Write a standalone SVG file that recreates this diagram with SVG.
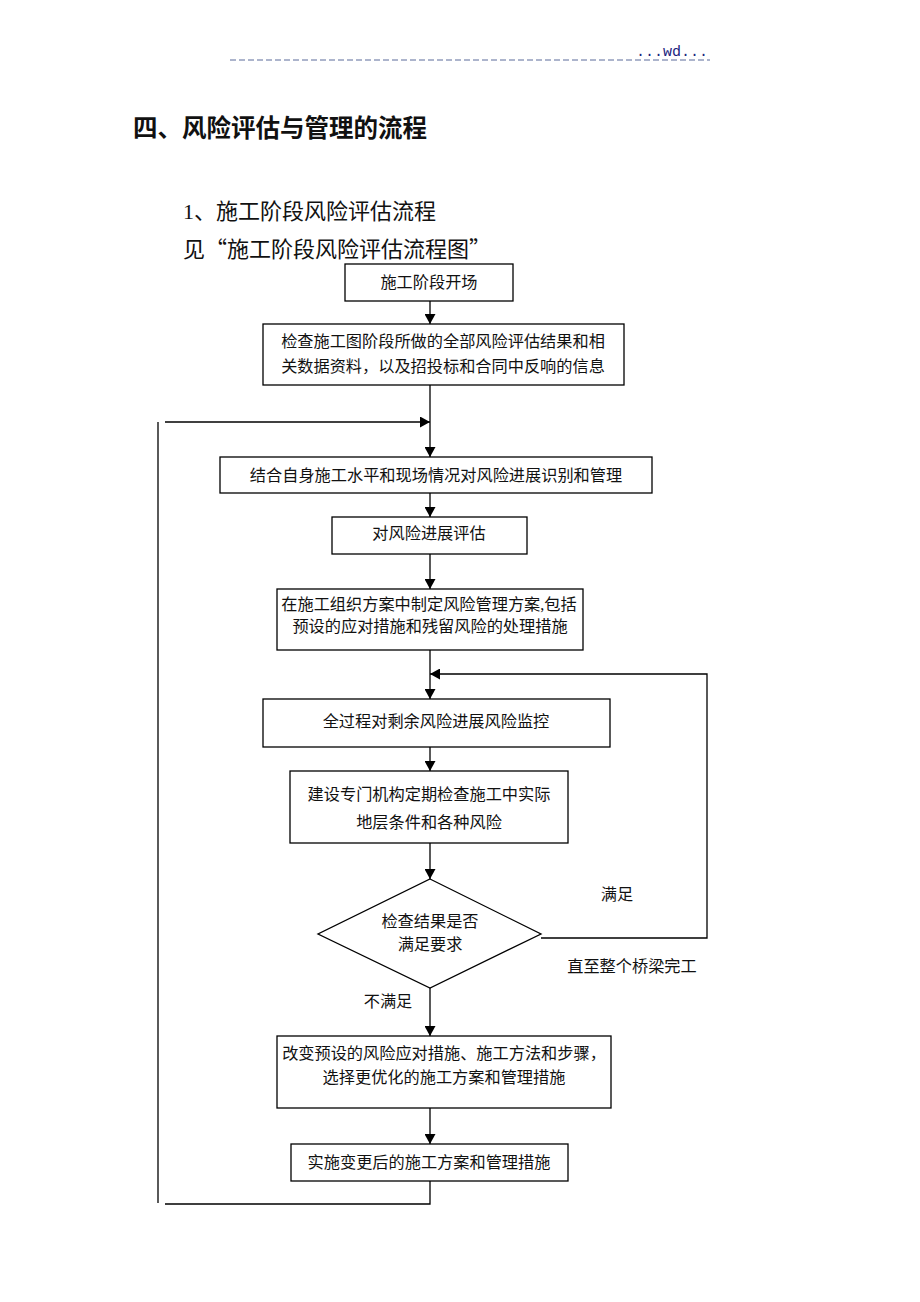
<svg xmlns="http://www.w3.org/2000/svg" width="920" height="1302" viewBox="0 0 920 1302">
<defs>
<marker id="arr" markerWidth="10" markerHeight="11" refX="10" refY="5.5" orient="auto" markerUnits="userSpaceOnUse">
<path d="M0,0 L10,5.5 L0,11 Z" fill="#000"/>
</marker>
<style>
.box{fill:#fff;stroke:#000;stroke-width:1.3}
.t{font-family:"Liberation Serif","Noto Sans CJK SC",serif;font-size:16.2px;fill:#111;text-anchor:middle;dominant-baseline:central}
.c{fill:none;stroke:#000;stroke-width:1.3}
.h{font-family:"Liberation Serif","Noto Sans CJK SC",serif;font-size:22px;fill:#111}
.q{font-family:"Noto Sans CJK SC",sans-serif}
</style>
</defs>
<rect width="920" height="1302" fill="#fff"/>
<g id="header">
<line x1="230" y1="60" x2="710" y2="60" stroke="#5a6a9a" stroke-width="1" stroke-dasharray="6,3"/>
<text x="636" y="56" font-family="Liberation Mono, monospace" font-size="15" fill="#1a237e">...wd...</text>
</g>
<g id="titles">
<text x="133" y="137" font-family="Noto Sans CJK SC, sans-serif" font-size="24.5px" font-weight="bold" fill="#111">四、风险评估与管理的流程</text>
<text class="h" x="183" y="219">1、施工阶段风险评估流程</text>
<text class="h" x="183" y="257">见<tspan class="q">“</tspan>施工阶段风险评估流程图<tspan class="q">”</tspan></text>
</g>
<g id="connectors">
<line class="c" x1="430" y1="301" x2="430" y2="324" marker-end="url(#arr)"/>
<line class="c" x1="430" y1="385" x2="430" y2="457" marker-end="url(#arr)"/>
<line class="c" x1="165" y1="422" x2="430" y2="422" marker-end="url(#arr)"/>
<line class="c" x1="430" y1="493" x2="430" y2="517" marker-end="url(#arr)"/>
<line class="c" x1="430" y1="554" x2="430" y2="589" marker-end="url(#arr)"/>
<line class="c" x1="430" y1="650" x2="430" y2="699" marker-end="url(#arr)"/>
<line class="c" x1="430" y1="747" x2="430" y2="771" marker-end="url(#arr)"/>
<line class="c" x1="430" y1="843" x2="430" y2="879" marker-end="url(#arr)"/>
<polyline class="c" points="541,938 707,938 707,674 430,674" marker-end="url(#arr)"/>
<line class="c" x1="430" y1="988" x2="430" y2="1036" stroke="#555" marker-end="url(#arr)"/>
<line class="c" x1="430" y1="1108" x2="430" y2="1144" marker-end="url(#arr)"/>
<polyline class="c" points="430,1181 430,1204 165,1204"/>
<line class="c" x1="158" y1="422" x2="158" y2="1203"/>
<text class="t" x="617" y="895">满足</text>
<text class="t" x="632" y="967">直至整个桥梁完工</text>
<text class="t" x="388" y="1002">不满足</text>
</g>
<g id="n1">
<rect class="box" x="345" y="264" width="168" height="37"/>
<text class="t" x="429" y="283">施工阶段开场</text>
</g>
<g id="n2">
<rect class="box" x="263" y="324" width="361" height="61"/>
<text class="t" x="443" y="342">检查施工图阶段所做的全部风险评估结果和相</text>
<text class="t" x="443" y="367">关数据资料，以及招投标和合同中反响的信息</text>
</g>
<g id="n3">
<rect class="box" x="220" y="457" width="432" height="36"/>
<text class="t" x="436" y="476">结合自身施工水平和现场情况对风险进展识别和管理</text>
</g>
<g id="n4">
<rect class="box" x="332" y="517" width="195" height="37"/>
<text class="t" x="429" y="534">对风险进展评估</text>
</g>
<g id="n5">
<rect class="box" x="277" y="589" width="306" height="61"/>
<text class="t" x="429" y="605">在施工组织方案中制定风险管理方案,包括</text>
<text class="t" x="430" y="627">预设的应对措施和残留风险的处理措施</text>
</g>
<g id="n6">
<rect class="box" x="263" y="699" width="347" height="48"/>
<text class="t" x="436" y="722">全过程对剩余风险进展风险监控</text>
</g>
<g id="n7">
<rect class="box" x="290" y="771" width="278" height="72"/>
<text class="t" x="429" y="795">建设专门机构定期检查施工中实际</text>
<text class="t" x="429" y="823">地层条件和各种风险</text>
</g>
<g id="n8">
<polygon class="box" points="430,879 541,934 430,988 318,934"/>
<text class="t" x="430" y="922">检查结果是否</text>
<text class="t" x="430" y="945">满足要求</text>
</g>
<g id="n9">
<rect class="box" x="277" y="1036" width="334" height="72"/>
<text class="t" x="444" y="1054">改变预设的风险应对措施、施工方法和步骤，</text>
<text class="t" x="444" y="1078">选择更优化的施工方案和管理措施</text>
</g>
<g id="n10">
<rect class="box" x="291" y="1144" width="277" height="37"/>
<text class="t" x="429" y="1163">实施变更后的施工方案和管理措施</text>
</g>
</svg>
